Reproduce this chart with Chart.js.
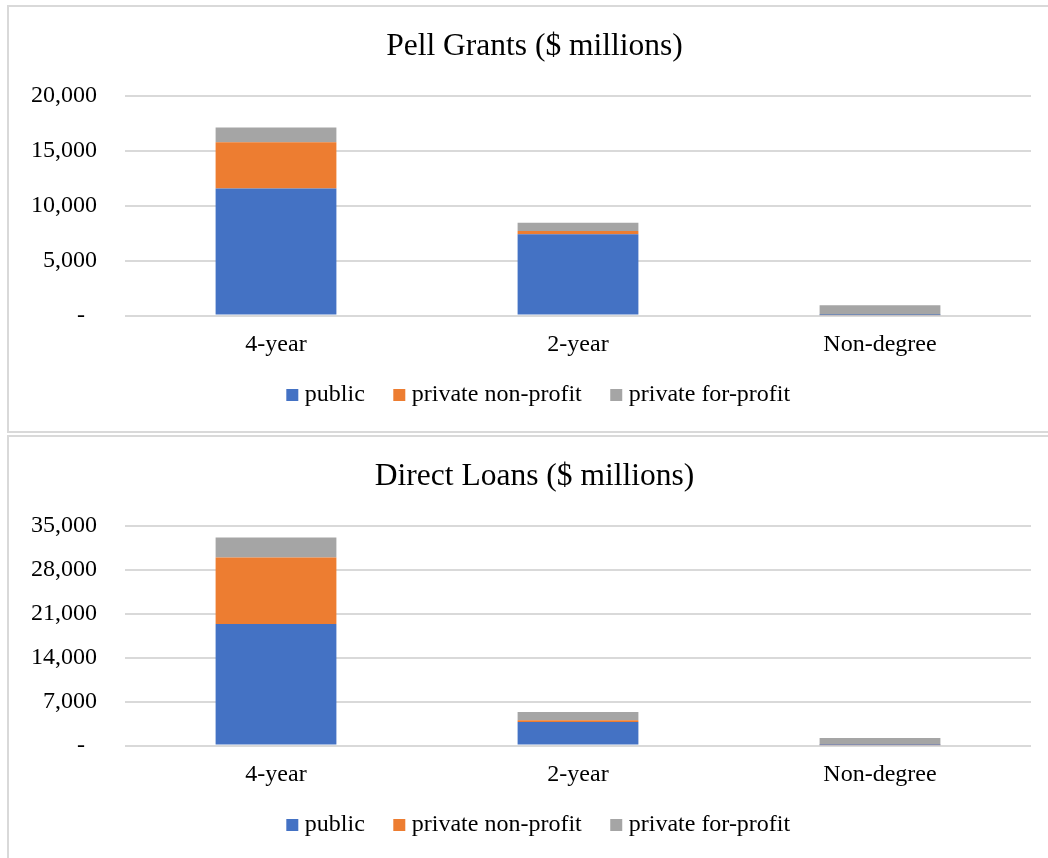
<!DOCTYPE html>
<html lang="en">
<head>
    <meta charset="UTF-8">
    <title>Pell Grants and Direct Loans</title>
    <script src="https://cdn.jsdelivr.net/npm/chart.js"></script>
    <style>
        body {
            margin: 0;
            background: #ffffff;
            overflow: hidden;
            width: 1048px;
            height: 858px;
            position: relative;
        }
        .frame {
            position: absolute;
            left: 7px;
            width: 1100px;
            border: 2px solid #d9d9d9;
            border-right: none;
            box-sizing: border-box;
        }
        canvas {
            position: absolute;
            left: 9px;
        }
    </style>
</head>
<body>
    <div class="frame" style="top: 5px; height: 428px;"></div>
    <div class="frame" style="top: 435px; height: 500px;"></div>
    <canvas id="pell" width="1022" height="424" style="top: 7px;"></canvas>
    <canvas id="loans" width="1022" height="424" style="top: 437px;"></canvas>
    <script>
        // categorias e séries
        const categories = ['4-year', '2-year', 'Non-degree'];
        const seriesNames = ['public', 'private non-profit', 'private for-profit'];
        const seriesColors = ['#4472C4', '#ED7D31', '#A5A5A5'];

        // Pell Grants ($ millions)
        const pellPublic = [11590, 7400, 15];
        const pellNonProfit = [4220, 300, 25];
        const pellForProfit = [1340, 760, 890];
        const pellTicks = [0, 5000, 10000, 15000, 20000];

        // Direct Loans ($ millions)
        const loansPublic = [19400, 3770, 20];
        const loansNonProfit = [10600, 270, 80];
        const loansForProfit = [3190, 1320, 1110];
        const loansTicks = [0, 7000, 14000, 21000, 28000, 35000];

        const serif = "'Liberation Serif', 'Times New Roman', serif";

        // título e legenda deslocados como no Excel
        const nudgePlugin = {
            id: 'nudge',
            afterLayout(chart) {
                chart.titleBlock.left += 4.5;
                chart.titleBlock.right += 4.5;
                chart.legend.left += 11;
                chart.legend.right += 11;
                chart.legend.top -= 14;
                chart.legend.bottom -= 14;
            },
        };

        function makeChart(id, title, series, ticks) {
            const ctx = document.getElementById(id).getContext('2d');
            return new Chart(ctx, {
                type: 'bar',
                data: {
                    labels: categories,
                    datasets: series.map((data, i) => ({
                        label: seriesNames[i],
                        data: data,
                        backgroundColor: seriesColors[i],
                        borderWidth: 0,
                        categoryPercentage: 1,
                        barPercentage: 0.4,
                    })),
                },
                plugins: [nudgePlugin],
                options: {
                    responsive: false,
                    animation: false,
                    layout: {
                        padding: { left: 20, right: 0, top: 0, bottom: 0 },
                    },
                    plugins: {
                        title: {
                            display: true,
                            text: title,
                            color: '#000000',
                            font: { family: serif, size: 31.5, weight: 'normal' },
                            padding: { top: 21, bottom: 30.4 },
                        },
                        legend: {
                            position: 'bottom',
                            labels: {
                                color: '#000000',
                                font: { family: serif, size: 24 },
                                usePointStyle: true,
                                pointStyle: 'rect',
                                boxWidth: 1,
                                boxHeight: 12,
                                padding: 34,
                            },
                        },
                        tooltip: { enabled: false },
                    },
                    scales: {
                        x: {
                            stacked: true,
                            grid: { display: false, drawTicks: false },
                            border: { display: false },
                            ticks: {
                                color: '#000000',
                                font: { family: serif, size: 24 },
                                padding: 15,
                            },
                            afterFit: (scale) => { scale.height = 47.5; },
                        },
                        y: {
                            stacked: true,
                            min: ticks[0],
                            max: ticks[ticks.length - 1],
                            afterBuildTicks: (scale) => {
                                scale.ticks = ticks.map((v) => ({ value: v }));
                            },
                            grid: { color: '#d9d9d9', lineWidth: 2, drawTicks: false },
                            border: { display: false },
                            ticks: {
                                color: '#000000',
                                font: { family: serif, size: 24 },
                                padding: 28,
                                callback: (v) => (v === 0 ? '-  ' : v.toLocaleString('en-US')),
                            },
                            afterFit: (scale) => { scale.width = 96; },
                        },
                    },
                },
            });
        }

        makeChart('pell', 'Pell Grants ($ millions)',
            [pellPublic, pellNonProfit, pellForProfit], pellTicks);
        makeChart('loans', 'Direct Loans ($ millions)',
            [loansPublic, loansNonProfit, loansForProfit], loansTicks);
    </script>
</body>
</html>
